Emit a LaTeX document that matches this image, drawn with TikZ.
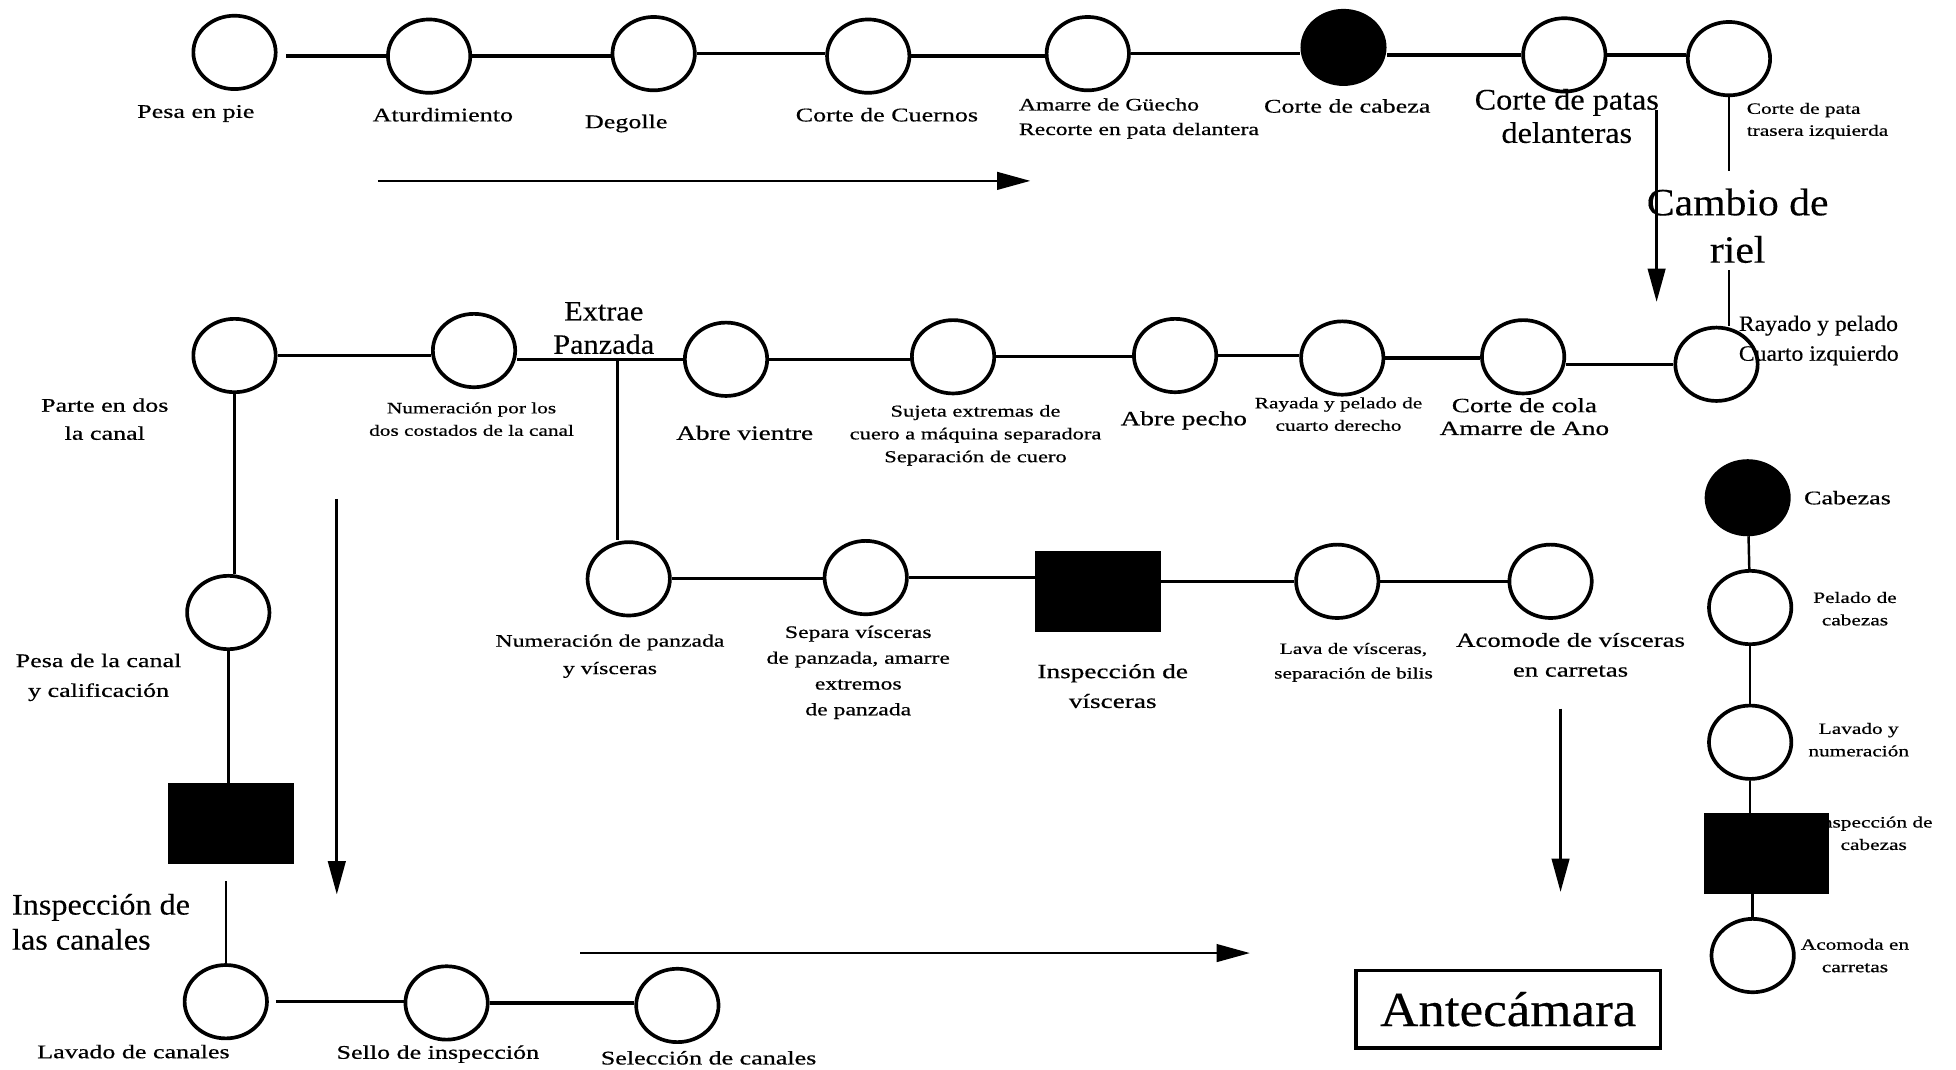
\documentclass[tikz,border=0pt]{standalone}
\usepackage{fontspec}
\setmainfont{Liberation Serif}
\newfontfamily\wfont[FakeStretch=1.35,FakeBold=0.6]{Liberation Serif}
\newfontfamily\mfont[FakeStretch=1.08,FakeBold=0.3]{Liberation Serif}
\usetikzlibrary{shapes.geometric,arrows.meta}
\newcommand{\lfs}[2]{\fontsize{#1}{#2}\selectfont}
\begin{document}
\begin{tikzpicture}[x=0.025cm,y=-0.025cm,
  circ/.style={draw,ellipse,line width=2.1pt,minimum width=1.65cm,minimum height=1.47cm,inner sep=0pt},
  fcirc/.style={circ,fill=black},
  sq/.style={draw,fill=black,rectangle,minimum width=2.5cm,minimum height=1.6cm,inner sep=0pt},
  conn/.style={line width=1.9pt},
  vconn/.style={line width=1.4pt},
  flow/.style={line width=1.5pt,-{Triangle[length=19pt,width=10pt]}},
  lbl/.style={align=center,inner sep=0pt},
  fw/.style 2 args={font=\wfont\lfs{#1}{#2}},
  fm/.style 2 args={font=\mfont\lfs{#1}{#2}},
]
\fill[white] (0,0) rectangle (1568,857);
\useasboundingbox (0,0) rectangle (1568,857);

% ---------- top row ----------
\node[circ] (t1) at (188,42) {};
\node[circ] (t2) at (344,45) {};
\node[circ] (t3) at (524,43) {};
\node[circ] (t4) at (696,45) {};
\node[circ] (t5) at (872,43) {};
\node[fcirc] (t6) at (1077,38) {};
\node[circ] (t7) at (1254,44) {};
\node[circ] (t8) at (1386,47) {};

\draw[conn,shorten >=5pt] (t2) -- (t2 -| t1.east);
\draw[conn] (t2) -- (t2 -| t3.west);
\draw[conn] (t3) -- (t3 -| t4.west);
\draw[conn] (t4) -- (t4 -| t5.west);
\draw[conn] (t5) -- (t5 -| t6.west);
\draw[conn] (t7) -- (t7 -| t6.east);
\draw[conn] (t7) -- (t7 -| t8.west);

\node[lbl,fw={11}{15}] (lt1) at (157,91) {Pesa en pie};
\node[lbl,fw={11}{15}] (lt2) at (355,92) {Aturdimiento};
\node[lbl,fw={11}{15}] (lt3) at (502,99) {Degolle};
\node[lbl,fw={11}{15}] (lt4) at (711,92) {Corte de Cuernos};
\node[lbl,fw={10}{14},align=left] (lt5) at (913,95) {Amarre de Güecho\\Recorte en pata delantera};
\node[lbl,fw={11}{15}] (lt6) at (1080,85) {Corte de cabeza};
\node[lbl,fm={17}{19}] (lt7) at (1256,93) {Corte de patas\\delanteras};
\node[lbl,fw={9}{12.5},align=left] (lt8) at (1457,97) {Corte de pata\\trasera izquierda};

\coordinate (a1s) at (303,145);
\coordinate (a1e) at (826,145);
\draw[flow] (a1s) -- (a1e);
\coordinate (a2s) at (1328,88);
\coordinate (a2e) at (1328,242);
\draw[flow] (a2s) -- (a2e);

\node[lbl,fm={22}{27}] (cambio) at (1393,181) {Cambio de\\riel};

% ---------- second row ----------
\node[circ] (r1) at (188,285) {};
\node[circ] (r2) at (380,281) {};
\node[circ] (r3) at (582,288) {};
\node[circ] (r4) at (764,286) {};
\node[circ] (r5) at (942,285) {};
\node[circ] (r6) at (1076,287) {};
\node[circ] (r7) at (1221,286) {};
\node[circ] (r8) at (1376,292) {};

\draw[vconn,shorten >=10pt] (t8) -- (t8 |- cambio.north);
\draw[vconn,shorten <=4pt] (t8 |- cambio.south) -- (t8 |- r8.north);

\draw[conn] (r1) -- (r1 -| r2.west);
\draw[conn] (r3) -- (r3 -| r2.east);
\draw[conn] (r3) -- (r3 -| r4.west);
\draw[conn] (r4) -- (r4 -| r5.west);
\draw[conn] (r5) -- (r5 -| r6.west);
\draw[conn] (r6) -- (r6 -| r7.west);
\draw[conn] (r8) -- (r8 -| r7.east);

\node[lbl,fw={11}{16}] (lr1) at (84,336) {Parte en dos\\la canal};
\node[lbl,fw={9}{12.8}] (lr2) at (378,336) {Numeración por los\\dos costados de la canal};
\node[lbl,fm={16}{19}] (extrae) at (484,263) {Extrae\\Panzada};
\node[lbl,fw={11.5}{15}] (lr3) at (597,347) {Abre vientre};
\node[lbl,fw={9.5}{13}] (lr4) at (782,349) {Sujeta extremas de\\cuero a máquina separadora\\Separación de cuero};
\node[lbl,fw={11.5}{15}] (lr5) at (949,337) {Abre pecho};
\node[lbl,fw={9}{12.8}] (lr6) at (1073,332) {Rayada y pelado de\\cuarto derecho};
\node[lbl,fw={11.5}{13}] (lr7) at (1222,334) {Corte de cola\\Amarre de Ano};
\node[lbl,fm={12.5}{17},align=left] (lr8) at (1458,273) {Rayado y pelado\\Cuarto izquierdo};

% ---------- visceras row ----------
\node[circ] (v1) at (504,464) {};
\node[circ] (v2) at (694,463) {};
\node[sq] (v3) at (880,474) {};
\node[circ] (v4) at (1072,466) {};
\node[circ] (v5) at (1243,466) {};

\coordinate (ej) at (495,288);
\draw[vconn] (ej) -- (ej |- v1.north);

\draw[conn] (v1) -- (v1 -| v2.west);
\draw[conn] (v2) -- (v2 -| v3.west);
\draw[conn] (v4) -- (v4 -| v3.east);
\draw[conn] (v4) -- (v4 -| v5.west);

\node[lbl,fw={10}{15.6}] (lv1) at (489,526) {Numeración de panzada\\y vísceras};
\node[lbl,fw={10}{14.7}] (lv2) at (688,539) {Separa vísceras\\de panzada, amarre\\extremos\\de panzada};
\node[lbl,fw={11.5}{17}] (lv3) at (892,550) {Inspección de\\vísceras};
\node[lbl,fw={9}{14}] (lv4) at (1085,531) {Lava de vísceras,\\separación de bilis};
\node[lbl,fw={11.3}{17}] (lv5) at (1259,525) {Acomode de vísceras\\en carretas};

\coordinate (a3s) at (1251,568);
\coordinate (a3e) at (1251,715);
\draw[flow] (a3s) -- (a3e);

% ---------- left column / bottom row ----------
\node[circ] (L1) at (183,491) {};
\node[sq] (L2) at (185,660) {};
\node[circ] (L3) at (181,803) {};
\node[circ] (B2) at (358,804) {};
\node[circ] (B3) at (543,806) {};

\draw[vconn] (r1) -- (r1 |- L1.north);
\draw[vconn] (L1) -- (L1 |- L2.north);
\draw[vconn,shorten <=10pt] (L2.south -| L3) -- (L3);
\draw[conn,shorten <=4pt] (L3) -- (L3 -| B2.west);
\draw[conn] (B2) -- (B2 -| B3.west);

\node[lbl,fw={11}{17}] (lL1) at (79,543) {Pesa de la canal\\y calificación};
\node[lbl,fm={17}{20},align=left] (lL2) at (81,739) {Inspección de\\las canales};
\node[lbl,fw={11}{15}] (lL3) at (107,843) {Lavado de canales};
\node[lbl,fw={11}{15}] (lB2) at (351,845) {Sello de inspección};
\node[lbl,fw={11}{15}] (lB3) at (568,848) {Selección de canales};

\coordinate (a4s) at (270,400);
\coordinate (a4e) at (270,717);
\draw[flow] (a4s) -- (a4e);
\coordinate (a5s) at (465,764);
\coordinate (a5e) at (1002,764);
\draw[flow] (a5s) -- (a5e);

\node[draw,line width=2pt,minimum width=6.1cm,minimum height=1.55cm,inner sep=0pt,fm={28}{30}] (ante) at (1209,809) {Antecámara};

% ---------- heads column ----------
\node[fcirc] (H1) at (1401,399) {};
\node[circ] (H2) at (1403,487) {};
\node[circ] (H3) at (1403,595) {};
\node[lbl,fw={9}{12.8}] (lH4) at (1502,668) {Inspección de\\cabezas};
\node[sq] (H4) at (1416,684) {};
\node[circ] (H5) at (1405,766) {};

\draw[vconn] (H1) -- (H2);
\draw[vconn] (H2) -- (H3);
\draw[vconn] (H3) -- (H3 |- H4.north);
\draw[vconn] (H4.south -| H5) -- (H5);

\node[lbl,fw={11}{15}] (lH1) at (1481,399) {Cabezas};
\node[lbl,fw={9}{12.8}] (lH2) at (1487,488) {Pelado de\\cabezas};
\node[lbl,fw={9}{12.8}] (lH3) at (1490,593) {Lavado y\\numeración};
\node[lbl,fw={9}{12.8}] (lH5) at (1487,766) {Acomoda en\\carretas};
\end{tikzpicture}
\end{document}
